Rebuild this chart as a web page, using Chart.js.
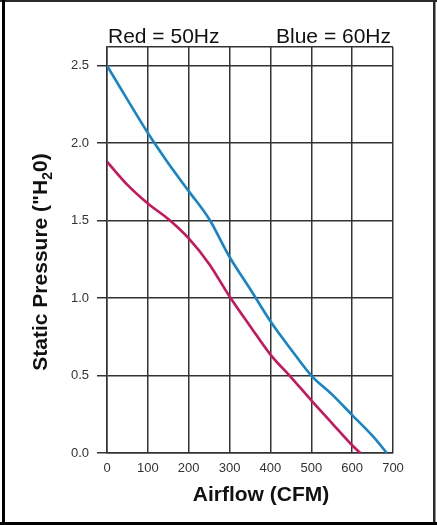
<!DOCTYPE html>
<html><head><meta charset="utf-8">
<script src="https://cdn.jsdelivr.net/npm/chart.js@4"></script>
<style>html,body{margin:0;padding:0;background:#fff;} #wrap{position:relative;width:437px;height:525px;} canvas{display:block}</style>
</head><body><div id="wrap"><canvas id="c" width="437" height="525"></canvas></div>
<script>
// ---- data ----
const blueAirflow  = [0, 50, 100, 150, 200, 250, 300, 350, 400, 450, 500, 550, 600, 650, 685];
const bluePressure = [2.5, 2.28, 2.065, 1.87, 1.69, 1.51, 1.265, 1.06, 0.85, 0.67, 0.5, 0.38, 0.245, 0.11, 0];
const redAirflow   = [0, 50, 100, 150, 200, 250, 300, 350, 400, 450, 500, 550, 600, 620];
const redPressure  = [1.88, 1.73, 1.61, 1.51, 1.385, 1.22, 1.01, 0.82, 0.635, 0.49, 0.34, 0.195, 0.05, 0];
const xTickStep = 100;
const yTickStep = 0.5;
const headerLeft = 'Red = 50Hz';
const headerRight = 'Blue = 60Hz';
const xTitle = 'Airflow (CFM)';
const yTitleParts = ['Static Pressure ("H', '2', '0)'];

const toPoints = (xs, ys) => xs.map((x, i) => ({x: x, y: ys[i]}));
const isStep = v => Math.abs(v / yTickStep - Math.round(v / yTickStep)) < 1e-6;
const FONT = '"Liberation Sans", Arial, Helvetica, sans-serif';
const GRID = '#333333';

const decor = {
  id: 'decor',
  beforeDraw(chart) {
    const ctx = chart.ctx;
    ctx.save();
    ctx.fillStyle = '#ffffff';
    ctx.fillRect(0, 0, chart.width, chart.height);
    ctx.restore();
  },
  afterDraw(chart) {
    const ctx = chart.ctx;
    const a = chart.chartArea;
    ctx.save();
    // frame
    ctx.fillStyle = '#2a2a2a';
    ctx.fillRect(0, 0, chart.width, 2);
    ctx.fillRect(433, 0, 2.5, chart.height);
    ctx.fillStyle = '#000';
    ctx.fillRect(2, 0, 3, chart.height);
    ctx.fillRect(0, 522, chart.width, 3);
    // header
    ctx.fillStyle = '#111';
    ctx.font = '21px ' + FONT;
    ctx.textBaseline = 'alphabetic';
    ctx.textAlign = 'left';
    ctx.fillText(headerLeft, a.left + 1, 42.5);
    ctx.textAlign = 'right';
    ctx.fillText(headerRight, a.right - 2, 42.5);
    // x title
    ctx.font = 'bold 21px ' + FONT;
    ctx.textAlign = 'center';
    ctx.textBaseline = 'middle';
    ctx.fillText(xTitle, 261, 495);
    // y title with subscript
    ctx.translate(40, 262);
    ctx.rotate(-Math.PI / 2);
    const bigF = 'bold 21px ' + FONT, smallF = 'bold 14px ' + FONT;
    ctx.font = bigF; const w0 = ctx.measureText(yTitleParts[0]).width;
    const w2 = ctx.measureText(yTitleParts[2]).width;
    ctx.font = smallF; const w1 = ctx.measureText(yTitleParts[1]).width;
    let x = -(w0 + w1 + w2) / 2;
    ctx.textAlign = 'left';
    ctx.textBaseline = 'alphabetic';
    const base = 7;
    ctx.font = bigF; ctx.fillText(yTitleParts[0], x, base); x += w0;
    ctx.font = smallF; ctx.fillText(yTitleParts[1], x, base + 5); x += w1;
    ctx.font = bigF; ctx.fillText(yTitleParts[2], x, base);
    ctx.restore();
  }
};

new Chart(document.getElementById('c'), {
  type: 'line',
  data: {
    datasets: [
      { label: '60Hz', data: toPoints(blueAirflow, bluePressure), borderColor: '#1684c8', borderWidth: 2.6,
        pointRadius: 0, cubicInterpolationMode: 'monotone', fill: false },
      { label: '50Hz', data: toPoints(redAirflow, redPressure), borderColor: '#c8155c', borderWidth: 2.6,
        pointRadius: 0, cubicInterpolationMode: 'monotone', fill: false }
    ]
  },
  options: {
    responsive: false,
    animation: false,
    devicePixelRatio: 1,
    layout: { padding: { top: 47, right: 44, left: 0, bottom: 0 } },
    plugins: { legend: { display: false }, tooltip: { enabled: false }, title: { display: false } },
    scales: {
      x: {
        type: 'linear', min: 0, max: 700,
        afterFit: s => { s.height = 72; },
        ticks: { stepSize: xTickStep, color: '#333', font: { size: 13, family: FONT }, padding: 8, maxRotation: 0,
                 callback: v => String(v) },
        grid: { color: GRID, lineWidth: 1.5, drawTicks: false },
        border: { display: true, color: GRID, width: 1.5 }
      },
      y: {
        type: 'linear', min: 0, max: 2.62,
        afterFit: s => { s.width = 107; },
        ticks: { stepSize: yTickStep, color: '#333', font: { size: 13, family: FONT }, padding: 8,
                 callback: v => isStep(v) ? v.toFixed(1) : '' },
        grid: { color: GRID, lineWidth: 1.5, tickLength: 10,
                tickColor: c => (c.tick && isStep(c.tick.value)) ? GRID : 'rgba(0,0,0,0)' },
        border: { display: true, color: GRID, width: 1.5 }
      }
    }
  },
  plugins: [decor]
});
</script>
</body></html>
